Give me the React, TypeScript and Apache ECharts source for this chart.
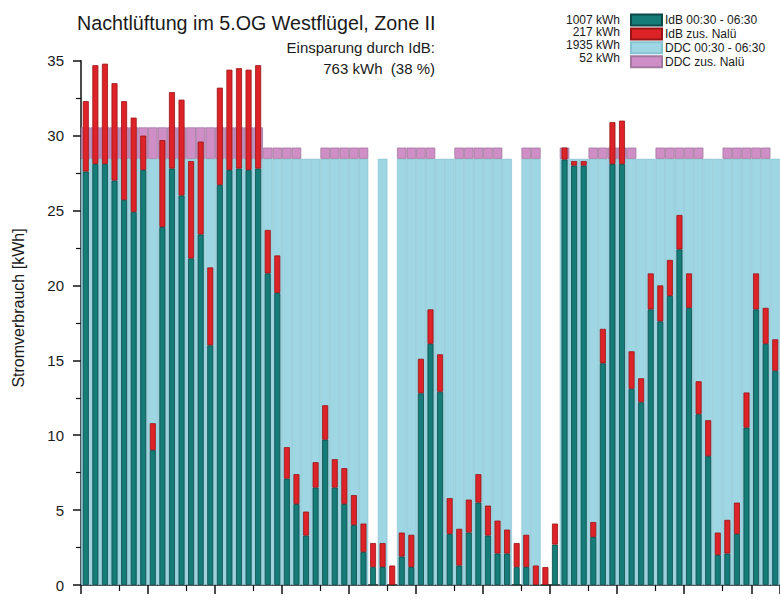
import React, { useEffect, useRef } from "react";
import * as echarts from "echarts";

const nights: string[] = Array.from({ length: 73 }, (_, i) => `N${i + 1}`);

const ddcBase: (number | null)[] = [
  28.45, 28.45, 28.45, 28.45, 28.45, 28.45, 28.45, 28.45, 28.45, 28.45,
  28.45, 28.45, 28.45, 28.45, 28.45, 28.45, 28.45, 28.45, 28.45, 28.45,
  28.45, 28.45, 28.45, 28.45, 28.45, 28.45, 28.45, 28.45, 28.45, 28.45,
  null, 28.45, null, 28.45, 28.45, 28.45, 28.45, 28.45, 28.45, 28.45,
  28.45, 28.45, 28.45, 28.45, 28.45, null, 28.45, 28.45, null, null,
  28.45, 28.45, 28.45, 28.45, 28.45, 28.45, 28.45, 28.45, 28.45, 28.45,
  28.45, 28.45, 28.45, 28.45, 28.45, 28.45, 28.45, 28.45, 28.45, 28.45,
  28.45, 28.45, 28.45,
];

const ddcExtra: (number | null)[] = [
  2.1, 2.1, 2.1, 2.1, 2.1, 2.1, 2.1, 2.1, 2.1, 2.1,
  2.1, 2.1, 2.1, 2.1, 2.1, 2.1, 2.1, 2.1, 2.1, 0.75,
  0.75, 0.75, 0.75, null, null, 0.75, 0.75, 0.75, 0.75, 0.75,
  null, null, null, 0.75, 0.75, 0.75, 0.75, null, null, 0.75,
  0.75, 0.75, 0.75, 0.75, null, null, 0.75, 0.75, null, null,
  0.75, null, null, 0.75, 0.75, 0.75, 0.75, 0.75, null, null,
  0.75, 0.75, 0.75, 0.75, 0.75, null, null, 0.75, 0.75, 0.75,
  0.75, 0.75, null,
];

const idbBase: number[] = [
  27.6, 28.1, 28.1, 27.0, 25.7, 24.9, 27.7, 9.0, 23.9, 27.8,
  26.0, 21.8, 23.4, 16.0, 26.7, 27.7, 27.8, 27.7, 27.8, 20.8,
  19.5, 7.1, 5.4, 3.3, 6.5, 9.7, 6.5, 5.4, 4.0, 2.2,
  1.2, 1.2, 0, 1.9, 1.2, 12.8, 16.1, 12.9, 3.4, 1.3,
  3.5, 5.5, 3.3, 2.1, 2.1, 1.2, 1.2, 0, 0, 2.7,
  28.4, 28.0, 28.0, 3.2, 14.8, 28.1, 28.1, 13.1, 12.2, 18.4,
  17.6, 19.3, 22.4, 18.5, 11.4, 8.6, 2.0, 2.1, 3.4, 10.5,
  18.4, 16.1, 14.3,
];

const idbExtra: number[] = [
  4.7, 6.6, 6.7, 6.5, 6.6, 6.3, 2.3, 1.8, 5.8, 5.1,
  6.4, 6.5, 6.2, 5.2, 6.5, 6.7, 6.7, 6.7, 6.9, 2.9,
  2.5, 2.1, 2.0, 1.6, 1.7, 2.3, 1.9, 2.4, 2.0, 1.9,
  1.6, 1.6, 1.3, 1.6, 2.15, 2.3, 2.3, 2.5, 2.4, 2.45,
  2.2, 1.9, 2.0, 2.2, 1.6, 1.6, 2.15, 1.3, 1.2, 1.4,
  0.8, 0.3, 0.3, 1.0, 2.3, 2.8, 2.9, 2.5, 1.6, 2.4,
  2.4, 2.4, 2.3, 2.3, 2.2, 2.4, 1.5, 2.25, 2.1, 2.35,
  2.4, 2.4, 2.1,
];

const seriesNames: string[] = [
  "IdB 00:30 - 06:30",
  "IdB zus. Nalü",
  "DDC 00:30 - 06:30",
  "DDC zus. Nalü",
];
const totals: string[] = ["1007 kWh", "217 kWh", "1935 kWh", "52 kWh"];

const titleText = "Nachtlüftung im 5.OG Westflügel, Zone II";
const savingLines: string[] = ["Einsparung durch IdB:", "763 kWh  (38 %)"];
const yAxisTitle = "Stromverbrauch [kWh]";

const FONT = "'Liberation Sans', Arial, Helvetica, sans-serif";

export default function App() {
  const ref = useRef<HTMLDivElement>(null);

  useEffect(() => {
    document.body.style.margin = "0";
    if (!ref.current) return;
    const chart = echarts.init(ref.current, undefined, { renderer: "svg" });

    const colors = {
      teal: "#157c78",
      tealBorder: "#0c4a48",
      red: "#dd2327",
      redBorder: "#981417",
      ddc: "#9fd6e3",
      ddcBorder: "#86c3d2",
      pink: "#cf8fc6",
      pinkBorder: "#a27aa0",
    };

    const graphic: any[] = [
      {
        type: "text",
        x: 77,
        y: 23,
        style: {
          text: titleText,
          font: `19.7px ${FONT}`,
          fill: "#1a1a1a",
          textAlign: "left",
          textVerticalAlign: "middle",
        },
      },
      {
        type: "text",
        x: 435,
        y: 47,
        style: {
          text: savingLines[0],
          font: `15px ${FONT}`,
          fill: "#1a1a1a",
          textAlign: "right",
          textVerticalAlign: "middle",
        },
      },
      {
        type: "text",
        x: 435,
        y: 68,
        style: {
          text: savingLines[1],
          font: `15px ${FONT}`,
          fill: "#1a1a1a",
          textAlign: "right",
          textVerticalAlign: "middle",
        },
      },
      {
        type: "text",
        x: 18,
        y: 308,
        rotation: Math.PI / 2,
        style: {
          text: yAxisTitle,
          font: `16px ${FONT}`,
          fill: "#1a1a1a",
          textAlign: "center",
          textVerticalAlign: "middle",
        },
      },
    ];
    totals.forEach((t, i) => {
      graphic.push({
        type: "text",
        x: 620,
        y: 19.5 + i * 12.9,
        style: {
          text: t,
          font: `12px ${FONT}`,
          fill: "#1a1a1a",
          textAlign: "right",
          textVerticalAlign: "middle",
        },
      });
    });

    const option: any = {
      animation: false,
      backgroundColor: "#ffffff",
      textStyle: { fontFamily: FONT },
      grid: { left: 81, top: 60.7, width: 73 * 9.63, height: 524.3 },
      legend: {
        orient: "vertical",
        left: 630,
        top: 13.5,
        icon: "rect",
        itemWidth: 31,
        itemHeight: 11,
        itemGap: 0.9,
        padding: 0,
        data: seriesNames,
        textStyle: { fontSize: 12, lineHeight: 12, color: "#1a1a1a", fontFamily: FONT, padding: [0, 0, 0, -2] },
      },
      graphic,
      xAxis: [
        {
          type: "category",
          data: nights,
          position: "bottom",
          boundaryGap: true,
          axisLine: { show: true, lineStyle: { color: "#111", width: 1.5 } },
          axisTick: {
            show: true,
            length: 9,
            lineStyle: { color: "#111", width: 1.5 },
            interval: (idx: number) => idx % 7 === 0,
          },
          axisLabel: { show: false },
          splitLine: { show: false },
        },
        {
          type: "category",
          data: nights,
          position: "bottom",
          boundaryGap: true,
          axisLine: { show: false },
          axisTick: {
            show: true,
            length: 6,
            lineStyle: { color: "#111", width: 1.2 },
            interval: (idx: number) => idx % 7 === 4,
          },
          axisLabel: { show: false },
          splitLine: { show: false },
        },
      ],
      yAxis: {
        type: "value",
        min: 0,
        max: 35,
        interval: 5,
        axisLine: { show: true, lineStyle: { color: "#111", width: 1.5 } },
        axisTick: { show: true, length: 8, lineStyle: { color: "#111", width: 1.5 } },
        minorTick: { show: true, splitNumber: 2, length: 5, lineStyle: { color: "#111", width: 1.2 } },
        axisLabel: { fontSize: 15, color: "#1a1a1a", margin: 17, fontFamily: FONT },
        splitLine: { show: false },
      },
      series: [
        {
          name: seriesNames[2],
          type: "bar",
          stack: "ddc",
          xAxisIndex: 0,
          barWidth: "100%",
          data: ddcBase,
          itemStyle: { color: colors.ddc, borderColor: colors.ddcBorder, borderWidth: 0.6 },
        },
        {
          name: seriesNames[3],
          type: "bar",
          stack: "ddc",
          xAxisIndex: 0,
          barWidth: "100%",
          data: ddcExtra,
          itemStyle: { color: colors.pink, borderColor: colors.pinkBorder, borderWidth: 0.8 },
        },
        {
          name: seriesNames[0],
          type: "bar",
          stack: "idb",
          xAxisIndex: 1,
          barWidth: 6,
          data: idbBase,
          itemStyle: { color: colors.teal, borderColor: colors.tealBorder, borderWidth: 0.8 },
        },
        {
          name: seriesNames[1],
          type: "bar",
          stack: "idb",
          xAxisIndex: 1,
          barWidth: 6,
          data: idbExtra,
          itemStyle: { color: colors.red, borderColor: colors.redBorder, borderWidth: 0.8 },
        },
      ],
    };

    chart.setOption(option);
    return () => chart.dispose();
  }, []);

  return <div ref={ref} style={{ width: 780, height: 601 }} />;
}
